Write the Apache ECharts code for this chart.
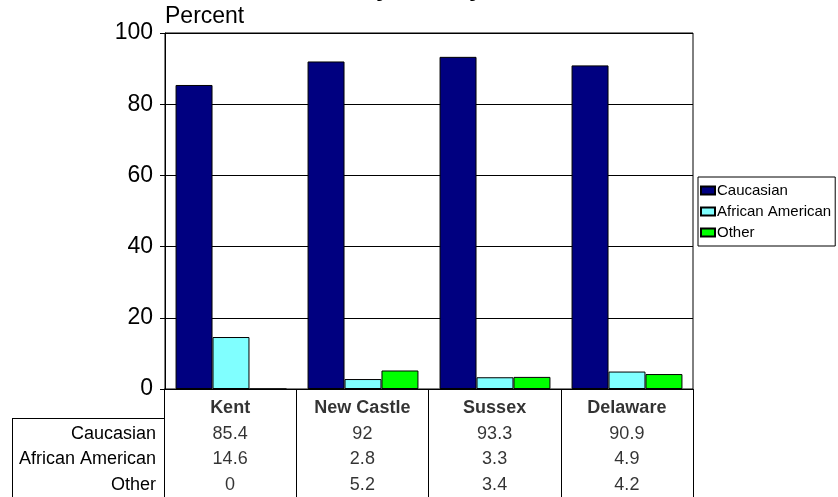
<!DOCTYPE html>
<html>
<head>
<meta charset="utf-8">
<script src="https://cdn.jsdelivr.net/npm/echarts@6/dist/echarts.min.js"></script>
<style>html,body{margin:0;padding:0;background:#fff;}#c{width:838px;height:497px;}</style>
</head>
<body>
<div id="c"></div>
<script>
const categories = ['Kent', 'New Castle', 'Sussex', 'Delaware'];
const seriesNames = ['Caucasian', 'African American', 'Other'];
const caucasian = [85.4, 92, 93.3, 90.9];
const africanAmerican = [14.6, 2.8, 3.3, 4.9];
const other = [0, 5.2, 3.4, 4.2];
const yTicks = [0, 20, 40, 60, 80, 100];
const colors = ['#000080', '#80FFFF', '#00FF00'];

const seriesValues = [caucasian, africanAmerican, other];
const FONT = 'Liberation Sans, Arial, sans-serif';

const chart = echarts.init(document.getElementById('c'), null, {renderer: 'canvas'});

const barSeries = seriesNames.map((n, k) => ({
  name: n, type: 'bar', xAxisIndex: 0, yAxisIndex: 0,
  data: seriesValues[k], barGap: '0%', barCategoryGap: '16%',
  itemStyle: {color: colors[k], borderColor: '#000', borderWidth: 1},
  emphasis: {disabled: true}, animation: false
}));

const headerData = categories.map((c, i) => [i, 0, c]);
const cellData = [];
seriesValues.forEach((arr, r) => arr.forEach((v, i) => cellData.push([i, r + 1, String(v)])));

const option = {
  backgroundColor: '#fff',
  animation: false,
  title: [
    {text: 'Race by County', left: 294, top: -23, padding: 0,
     textStyle: {fontFamily: FONT, fontSize: 25, lineHeight: 25, fontWeight: 'bold', color: '#000'}},
    {text: 'Percent', left: 165, top: 5, padding: 0,
     textStyle: {fontFamily: FONT, fontSize: 23, lineHeight: 23, fontWeight: 'normal', color: '#000'}}
  ],
  legend: {
    orient: 'vertical', left: 698, top: 177,
    data: seriesNames, icon: 'rect', itemWidth: 14, itemHeight: 8, itemGap: 6,
    borderColor: '#000', borderWidth: 1, borderRadius: 0,
    padding: [6, 4, 6, 2],
    textStyle: {fontFamily: FONT, fontSize: 15, lineHeight: 15, color: '#000', padding: [0, 0, 0, -3]},
    selectedMode: false
  },
  grid: [
    {left: 165, right: 145, top: 33, bottom: 108, show: true, borderColor: '#000', borderWidth: 1, backgroundColor: 'transparent'},
    {left: 164, right: 145, top: 389, bottom: 0}
  ],
  xAxis: [
    {type: 'category', gridIndex: 0, data: categories,
     axisLine: {show: true, lineStyle: {color: '#000', width: 1}},
     axisTick: {show: false}, axisLabel: {show: false}, splitLine: {show: false}},
    {type: 'category', gridIndex: 1, data: categories, boundaryGap: true,
     axisLine: {show: false}, axisTick: {show: false}, axisLabel: {show: false},
     splitLine: {show: true, interval: 0, lineStyle: {color: '#000', width: 1}}}
  ],
  yAxis: [
    {type: 'value', gridIndex: 0, min: 0, max: 100, interval: 20,
     axisLine: {show: true, lineStyle: {color: '#000'}},
     axisTick: {show: true, length: 5, lineStyle: {color: '#000'}},
     axisLabel: {fontFamily: FONT, fontSize: 23, color: '#000', margin: 12,
       formatter: v => yTicks.indexOf(v) >= 0 ? String(v) : ''},
     splitLine: {show: true, lineStyle: {color: '#000', width: 1}}},
    {type: 'value', gridIndex: 1, inverse: true, min: -0.765, max: 3.47,
     axisLine: {show: true, lineStyle: {color: '#000'}},
     axisTick: {show: false},
     splitLine: {show: false},
     axisLabel: {customValues: [1, 2, 3], fontFamily: FONT, fontSize: 18, color: '#000', margin: 8,
       formatter: v => seriesNames[Math.round(v) - 1] || ''}}
  ],
  series: barSeries.concat([
    {type: 'scatter', xAxisIndex: 1, yAxisIndex: 1, symbolSize: 0, data: headerData,
     label: {show: true, position: 'inside', formatter: p => p.value[2],
       fontFamily: FONT, fontSize: 18, fontWeight: 'bold', color: '#000'},
     emphasis: {disabled: true}, silent: true},
    {type: 'scatter', xAxisIndex: 1, yAxisIndex: 1, symbolSize: 0, data: cellData,
     label: {show: true, position: 'inside', formatter: p => p.value[2],
       fontFamily: FONT, fontSize: 18, color: '#000'},
     emphasis: {disabled: true}, silent: true}
  ]),
  graphic: [
    {type: 'line', shape: {x1: 12, y1: 418.5, x2: 164, y2: 418.5}, style: {stroke: '#000', lineWidth: 1}, silent: true},
    {type: 'line', shape: {x1: 12.5, y1: 418, x2: 12.5, y2: 497}, style: {stroke: '#000', lineWidth: 1}, silent: true}
  ]
};
chart.setOption(option);
</script>
</body>
</html>
